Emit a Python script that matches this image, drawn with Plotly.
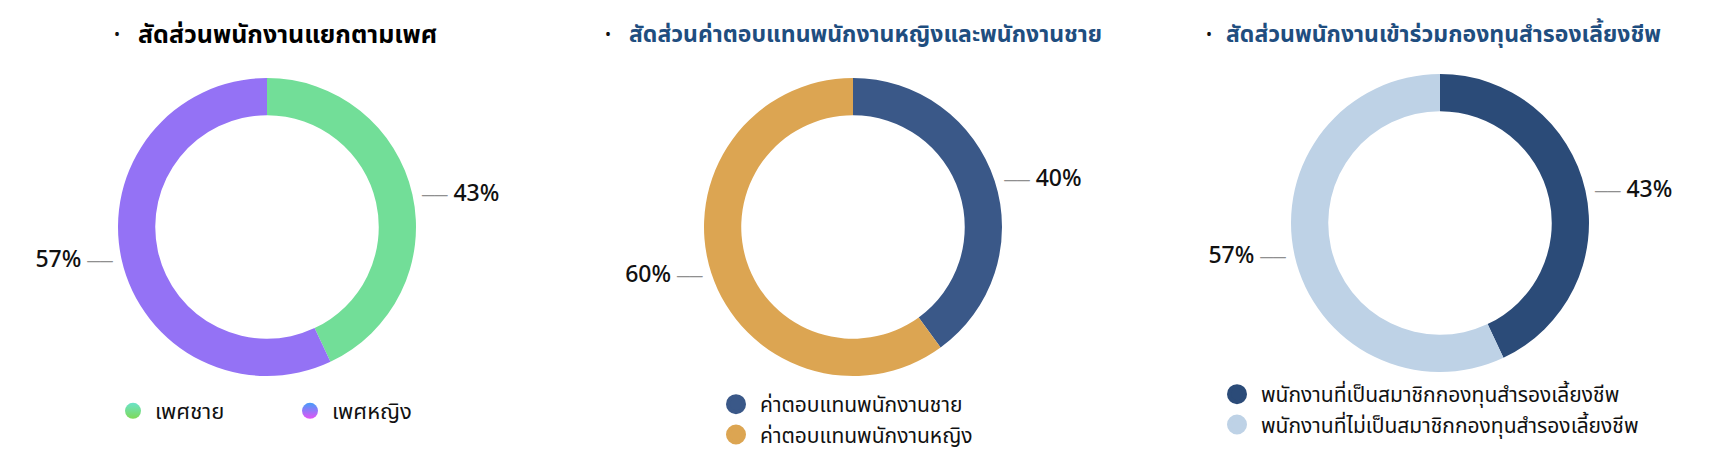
import plotly.graph_objects as go

W, H = 1727, 458

# ---- data ----
titles = ["สัดส่วนพนักงานแยกตามเพศ",
          "สัดส่วนค่าตอบแทนพนักงานหญิงและพนักงานชาย",
          "สัดส่วนพนักงานเข้าร่วมกองทุนสำรองเลี้ยงชีพ"]
gender_labels = ["เพศชาย", "เพศหญิง"]
gender_values = [43, 57]
pay_labels = ["ค่าตอบแทนพนักงานชาย", "ค่าตอบแทนพนักงานหญิง"]
pay_values = [40, 60]
fund_labels = ["พนักงานที่เป็นสมาชิกกองทุนสำรองเลี้ยงชีพ",
               "พนักงานที่ไม่เป็นสมาชิกกองทุนสำรองเลี้ยงชีพ"]
fund_values = [43, 57]

# ---- style ----
FONT = "Noto Sans Thai, Noto Sans, sans-serif"
gender_colors = ["#72de98", "#9472f5"]
gender_grad = [("#6be3c9", "#7ed957"), ("#469cf9", "#e453f6")]
pay_colors = ["#3a5888", "#dca552"]
fund_colors = ["#2b4b78", "#bed2e6"]
TITLE_BLUE = "#1f4e7f"

R = 149
centers = [(267, 227), (853, 227), (1440, 223)]


def dom(cx, cy):
    return dict(x=[(cx - R) / W, (cx + R) / W],
                y=[(H - cy - R) / H, (H - cy + R) / H])


LINE = "<span style='font-size:18px;color:#8f8f8f'>──</span>"
right_tpl = LINE + " %{percent}"
left_tpl = "%{percent} " + LINE

fig = go.Figure()
datasets = [(gender_labels, gender_values, gender_colors),
            (pay_labels, pay_values, pay_colors),
            (fund_labels, fund_values, fund_colors)]
for i, (labs, vals, cols) in enumerate(datasets):
    fig.add_trace(go.Pie(
        labels=labs, values=vals, hole=0.75, sort=False,
        direction="clockwise", rotation=0,
        marker=dict(colors=cols, line=dict(width=0)),
        textposition="outside",
        texttemplate=[right_tpl, left_tpl],
        outsidetextfont=dict(family=FONT, size=23, color="#111111", weight=500),
        showlegend=False, domain=dom(*centers[i]),
        hoverinfo="label+percent"))

# legend entries (circle markers)
legend_names = ["legend", "legend2", "legend3"]
for i, (labs, vals, cols) in enumerate(datasets):
    for j, lab in enumerate(labs):
        if i == 0:
            mk = dict(size=22, color=gender_grad[j][0], symbol="circle",
                      gradient=dict(type="vertical", color=gender_grad[j][1]),
                      line=dict(width=0))
        else:
            mk = dict(size=22, color=cols[j], symbol="circle",
                      line=dict(width=4, color=cols[j]))
        fig.add_trace(go.Scatter(x=[None], y=[None], mode="markers",
                                 name=lab, marker=mk,
                                 legend=legend_names[i], showlegend=True))

annots = []
bullets_x = [c[0] + d for c, d in zip(centers, [-150, -245, -231])]
title_cx = [c[0] + d for c, d in zip(centers, [20, 12, 3])]
title_sizes = [25, 23, 23]
title_colors = ["#000000", TITLE_BLUE, TITLE_BLUE]
for i in range(3):
    annots.append(dict(x=bullets_x[i] / W, y=1 - 35 / H, xref="paper", yref="paper",
                       text="•", showarrow=False, xanchor="center", yanchor="middle",
                       font=dict(family=FONT, size=16, color="#111111")))
    annots.append(dict(x=title_cx[i] / W, y=1 - 35 / H, xref="paper", yref="paper",
                       text="<b>" + titles[i] + "</b>", showarrow=False,
                       xanchor="center", yanchor="middle",
                       font=dict(family=FONT, size=title_sizes[i], color=title_colors[i])))

leg_font1 = dict(family=FONT, size=22, color="#111111")
leg_font = dict(family=FONT, size=21, color="#111111")
fig.update_layout(
    width=W, height=H,
    margin=dict(l=0, r=0, t=0, b=0),
    paper_bgcolor="white", plot_bgcolor="white",
    xaxis=dict(visible=False), yaxis=dict(visible=False),
    annotations=annots,
    legend=dict(orientation="h", x=111 / W, y=1 - 390 / H,
                xanchor="left", yanchor="top", font=leg_font1,
                entrywidth=128, itemwidth=34, bgcolor="rgba(0,0,0,0)"),
    legend2=dict(orientation="v", x=(738 - 26) / W, y=1 - 384 / H,
                 xanchor="left", yanchor="top", font=leg_font, itemwidth=38,
                 bgcolor="rgba(0,0,0,0)"),
    legend3=dict(orientation="v", x=(1239 - 26) / W, y=1 - 374 / H,
                 xanchor="left", yanchor="top", font=leg_font, itemwidth=38,
                 bgcolor="rgba(0,0,0,0)"),
)

fig.write_html("out.html", config={"displayModeBar": False},
               post_script="document.body.style.margin='0';")
